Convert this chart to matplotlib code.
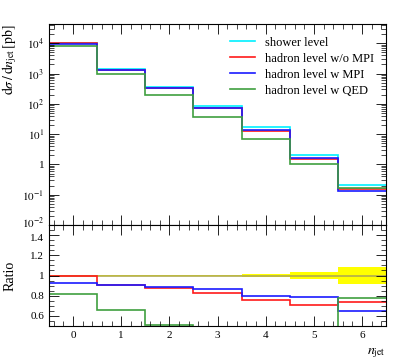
import numpy as np
import matplotlib
matplotlib.use('Agg')
import matplotlib.pyplot as plt
import matplotlib.transforms as mtransforms
from matplotlib.ticker import FixedLocator, MultipleLocator, LogLocator, FuncFormatter, NullFormatter

plt.rcParams['font.family'] = ['Liberation Serif', 'DejaVu Serif']
plt.rcParams['mathtext.fontset'] = 'stix'

# bins in n_jet
edges = [-0.5, 0.5, 1.5, 2.5, 3.5, 4.5, 5.5, 6.5]
labels = ['shower level', 'hadron level w/o MPI', 'hadron level w MPI', 'hadron level w QED']
colors = ['#00f0ff', '#ff1a1a', '#1a1aff', '#3f9f3f']

# cross sections [pb]
shower = [1.02e4, 1460, 372, 86, 17.0, 2.1, 0.21]
no_mpi = [1.02e4, 1330, 325, 71, 12.9, 1.49, 0.155]
w_mpi = [9.4e3, 1330, 329, 74.5, 13.6, 1.65, 0.137]
w_qed = [8.3e3, 965, 190, 37, 6.7, 1.0, 0.164]

# uncertainty band (relative) on the reference
band = [0.003, 0.003, 0.003, 0.004, 0.012, 0.03, 0.08]

# y tick values shown on each panel
main_yticks = [1e-2, 1e-1, 1, 1e1, 1e2, 1e3, 1e4]
ratio_yticks = [0.6, 0.8, 1.0, 1.2, 1.4]

series = [shower, no_mpi, w_mpi, w_qed]

fig = plt.figure(figsize=(3.99, 3.6), dpi=100)
ax = fig.add_axes([0.1228, 0.375, 0.845, 0.558])
rax = fig.add_axes([0.1228, 0.0944, 0.845, 0.2806], sharex=ax)

for vals, col, lab in zip(series, colors, labels):
    ax.stairs(vals, edges, color=col, lw=1.2, label=lab, baseline=None)

ax.set_yscale('log')
ax.set_ylim(1e-2, 4.3e4)
ax.set_xlim(-0.5, 6.5)

def log_fmt(v, pos):
    e = int(round(np.log10(v)))
    if e == 0:
        return '1'
    return r'$10^{%d}$' % e

ax.yaxis.set_major_locator(FixedLocator(main_yticks))
ax.yaxis.set_minor_locator(LogLocator(base=10, subs=np.arange(2, 10), numticks=20))
ax.yaxis.set_major_formatter(FuncFormatter(log_fmt))
ax.yaxis.set_minor_formatter(NullFormatter())
ax.set_ylabel(r'$\mathrm{d}\sigma\,/\,\mathrm{d}n_{\mathrm{jet}}\,[\mathrm{pb}]$', fontsize=10, loc='top')
ax.yaxis.set_label_coords(-0.09, 1.0)
ax.tick_params(axis='x', labelbottom=False)

leg = ax.legend(loc='upper right', frameon=False, fontsize=9, handlelength=2.0,
                handletextpad=0.8, labelspacing=0.32, borderaxespad=0.6)

# ratio panel
ref = np.array(shower)
lo = 1 - np.array(band)
hi = 1 + np.array(band)
rax.stairs(hi, edges, baseline=lo, fill=True, color='#ffff00', lw=0)
rax.stairs(np.ones(len(ref)), edges, color='#b0ab50', lw=1.2, baseline=None)
for vals, col in zip(series[1:], colors[1:]):
    rax.stairs(np.array(vals) / ref, edges, color=col, lw=1.2, baseline=None)

rax.set_ylim(0.5, 1.5)
rax.yaxis.set_major_locator(FixedLocator(ratio_yticks))
rax.yaxis.set_minor_locator(MultipleLocator(0.05))
rax.yaxis.set_major_formatter(FuncFormatter(lambda v, p: '1' if abs(v - 1) < 1e-6 else '%.1f' % v))
rax.set_ylabel('Ratio', fontsize=10)
rax.yaxis.set_label_coords(-0.095, 0.5)
rax.xaxis.set_major_locator(FixedLocator(range(7)))
rax.xaxis.set_minor_locator(MultipleLocator(0.2))
rax.set_xlabel(r'$n_{\mathrm{jet}}$', fontsize=10)
rax.xaxis.set_label_coords(0.97, -0.2)

for a in (ax, rax):
    a.tick_params(which='both', direction='in', top=True, right=True, labelsize=8)
    a.tick_params(which='major', length=7, width=0.6)
    a.tick_params(which='minor', length=3.5, width=0.5)
    for s in a.spines.values():
        s.set_linewidth(0.8)

# nudge the lowest main label and the top ratio label apart so they don't touch
up = mtransforms.ScaledTranslation(0, 2 / 72, fig.dpi_scale_trans)
down = mtransforms.ScaledTranslation(0, -1.5 / 72, fig.dpi_scale_trans)
t0 = ax.yaxis.get_major_ticks()[0].label1
t0.set_transform(t0.get_transform() + up)
t1 = rax.yaxis.get_major_ticks()[-1].label1
t1.set_transform(t1.get_transform() + down)

fig.savefig('out.png', dpi=100)
